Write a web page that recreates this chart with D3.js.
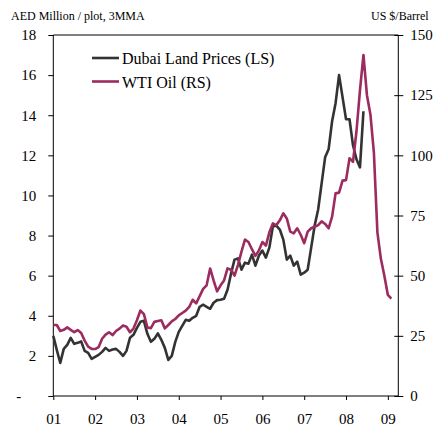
<!DOCTYPE html>
<html>
<head>
<meta charset="utf-8">
<script src="https://cdn.jsdelivr.net/npm/d3@7/dist/d3.min.js"></script>
<style>
  html, body { margin: 0; padding: 0; background: #fff; }
  svg text { font-family: "Liberation Serif", "Times New Roman", serif; fill: #000; }
</style>
</head>
<body>
<svg id="chart" width="438" height="426"></svg>
<script>
// ---- data (monthly, starting Jan 2001) ----
const yearLabels = ["01", "02", "03", "04", "05", "06", "07", "08", "09"];
const leftTicks = [0, 2, 4, 6, 8, 10, 12, 14, 16, 18];
const rightTicks = [0, 25, 50, 75, 100, 125, 150];
const seriesNames = ["Dubai Land Prices (LS)", "WTI Oil (RS)"];

// Dubai land prices, AED million / plot, 3MMA (Jan 2001 - Jun 2008)
const dubaiLand = [
  3.0, 2.3, 1.65, 2.35, 2.55, 2.9, 2.6, 2.65, 2.72, 2.25, 2.15, 1.85,
  1.95, 2.05, 2.2, 2.4, 2.25, 2.32, 2.35, 2.2, 2.0, 2.25, 2.9, 3.05,
  3.4, 3.7, 3.75, 3.1, 2.7, 2.85, 3.12, 2.8, 2.4, 1.8, 2.0, 2.7,
  3.2, 3.5, 3.8, 3.75, 3.9, 4.0, 4.45, 4.55, 4.45, 4.35, 4.65, 4.78,
  4.8, 4.85, 5.3, 6.1, 6.8, 6.86, 6.3, 6.65, 6.6, 7.05, 6.5, 7.0,
  7.25, 6.9, 7.4, 8.45, 8.5, 8.3, 7.8, 6.8, 7.0, 6.5, 6.7, 6.05,
  6.15, 6.3, 7.4, 8.5, 9.3, 10.6, 11.9, 12.3, 13.7, 14.6, 16.0, 14.9,
  13.8, 13.8, 12.5, 11.8, 11.4, 14.2
];

// WTI oil, US $/barrel (Jan 2001 - Feb 2009)
const wtiOil = [
  29.5, 29.5, 27, 27.5, 28.5, 27.5, 26.5, 27.4, 26.2, 23, 20.5, 19.6,
  19.5, 20.3, 23.8, 25.5, 26.5, 25.3, 27, 28, 29.3, 28.8, 26.5, 28,
  31.5, 35.5, 34, 28.5, 28.2, 30.8, 31.2, 31.5, 28.1, 29.5, 31, 32,
  33.5, 34.5, 35.5, 37, 40, 38.5, 41.5, 44.5, 46, 53, 48, 43.5,
  46, 48, 53, 52.5, 50, 54.5, 60, 65, 64, 61, 58.2, 60.5,
  64, 62.5, 68, 71.7, 71, 73, 75.9, 73.8, 68.3, 67.6, 69.7, 67,
  63.5, 68.3, 69.7, 70.3, 71, 72.6, 71.5, 69.7, 74.5, 84.2, 84.5, 89.5,
  89.7, 98.8, 97.3, 110, 127, 141.7, 125, 117, 101, 68, 57, 50,
  42, 40.5
];

// ---- layout ----
const W = 438, H = 426;
const margin = { top: 35, right: 39.7, bottom: 30, left: 53.3 };
const svg = d3.select("#chart");
const innerW = W - margin.left - margin.right;
const innerH = H - margin.top - margin.bottom;

const x = d3.scaleLinear().domain([0, 99]).range([margin.left, margin.left + innerW]);
const yL = d3.scaleLinear().domain([0, 18]).range([margin.top + innerH, margin.top]);
const yR = d3.scaleLinear().domain([0, 150]).range([margin.top + innerH, margin.top]);

const colDubai = "#333333";
const colOil = "#9c2b5f";

// frame (top line)
svg.append("line")
  .attr("x1", margin.left).attr("x2", margin.left + innerW)
  .attr("y1", margin.top).attr("y2", margin.top)
  .attr("stroke", "#000").attr("stroke-width", 1);

// left axis
const axL = d3.axisLeft(yL).tickValues(leftTicks).tickSize(5).tickPadding(12)
  .tickFormat(d => d === 0 ? "-" : d3.format("d")(d));
const gL = svg.append("g").attr("transform", `translate(${margin.left},0)`).call(axL);
gL.selectAll("text").filter(d => d === 0).attr("dx", -15);

// right axis
const axR = d3.axisRight(yR).tickValues(rightTicks).tickSizeOuter(0).tickSizeInner(5).tickPadding(7);
const gR = svg.append("g").attr("transform", `translate(${margin.left + innerW},0)`).call(axR);
gR.selectAll(".tick line").attr("x1", -4);

// bottom axis
const axB = d3.axisBottom(x).tickValues(yearLabels.map((d, i) => i * 12))
  .tickFormat((d, i) => yearLabels[i]).tickSizeOuter(0).tickSize(4).tickPadding(13);
svg.append("g").attr("transform", `translate(0,${margin.top + innerH})`).call(axB);

[gL, gR].forEach(g => g.select(".domain").attr("d", null));
svg.selectAll(".domain").remove();
// axis lines
svg.append("line").attr("x1", margin.left).attr("x2", margin.left)
  .attr("y1", margin.top).attr("y2", margin.top + innerH).attr("stroke", "#000");
svg.append("line").attr("x1", margin.left + innerW).attr("x2", margin.left + innerW)
  .attr("y1", margin.top).attr("y2", margin.top + innerH).attr("stroke", "#000");
svg.append("line").attr("x1", margin.left).attr("x2", margin.left + innerW)
  .attr("y1", margin.top + innerH).attr("y2", margin.top + innerH).attr("stroke", "#000");

svg.selectAll(".tick text").style("font-size", "15px").style("font-family", "'Liberation Serif', serif");
svg.selectAll(".tick line").attr("stroke", "#000");

// lines
const lineL = d3.line().x((d, i) => x(i)).y(d => yL(d));
const lineR = d3.line().x((d, i) => x(i)).y(d => yR(d));

svg.append("path").datum(dubaiLand).attr("d", lineL)
  .attr("fill", "none").attr("stroke", colDubai).attr("stroke-width", 2.6)
  .attr("stroke-linejoin", "round");
svg.append("path").datum(wtiOil).attr("d", lineR)
  .attr("fill", "none").attr("stroke", colOil).attr("stroke-width", 2.6)
  .attr("stroke-linejoin", "round");

// axis titles
svg.append("text").attr("x", 11).attr("y", 19.5).style("font-size", "12px")
  .text("AED Million / plot, 3MMA");
svg.append("text").attr("x", 371).attr("y", 19.5).style("font-size", "12px")
  .text("US $/Barrel");

// legend
const legend = svg.append("g");
const legCols = [colDubai, colOil];
seriesNames.forEach((name, i) => {
  const yy = 58 + i * 23.5;
  legend.append("line").attr("x1", 92).attr("x2", 119).attr("y1", yy).attr("y2", yy)
    .attr("stroke", legCols[i]).attr("stroke-width", 2.6);
  legend.append("text").attr("x", 122).attr("y", yy + 6).style("font-size", "16px").text(name);
});
</script>
</body>
</html>
